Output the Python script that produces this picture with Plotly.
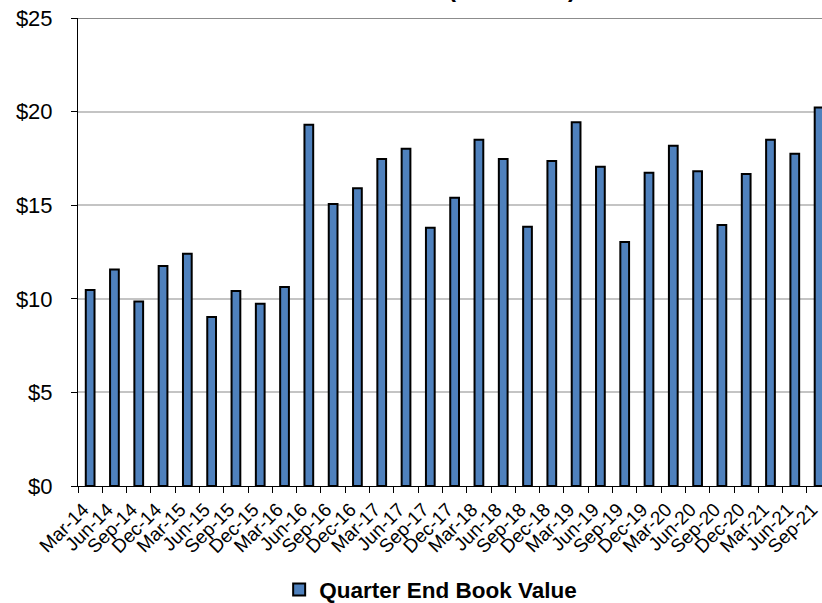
import plotly.graph_objects as go

# Quarter labels and book value per share at each quarter end
quarters = [
    "Mar-14", "Jun-14", "Sep-14", "Dec-14",
    "Mar-15", "Jun-15", "Sep-15", "Dec-15",
    "Mar-16", "Jun-16", "Sep-16", "Dec-16",
    "Mar-17", "Jun-17", "Sep-17", "Dec-17",
    "Mar-18", "Jun-18", "Sep-18", "Dec-18",
    "Mar-19", "Jun-19", "Sep-19", "Dec-19",
    "Mar-20", "Jun-20", "Sep-20", "Dec-20",
    "Mar-21", "Jun-21", "Sep-21",
]
book_value = [
    10.47, 11.57, 9.85, 11.75,
    12.41, 9.03, 10.41, 9.74,
    10.63, 19.30, 15.06, 15.90,
    17.47, 18.02, 13.80, 15.40,
    18.49, 17.47, 13.85, 17.36,
    19.43, 17.06, 13.03, 16.74,
    18.18, 16.81, 13.94, 16.67,
    18.50, 17.75, 20.22,
]
y_ticks = [0, 5, 10, 15, 20, 25]
y_tick_text = ["$0", "$5", "$10", "$15", "$20", "$25"]
dark_grid_levels = [10, 20, 25]

FONT = "Liberation Sans, Arial, Helvetica, sans-serif"

fig = go.Figure()
fig.add_trace(go.Bar(
    x=quarters,
    y=book_value,
    name="Quarter End Book Value",
    marker=dict(color="#4F81BD", line=dict(color="#000000", width=2)),
))

# darker grid rules on the major levels
for lvl in dark_grid_levels:
    fig.add_shape(
        type="line", xref="paper", x0=0, x1=1, yref="y", y0=lvl, y1=lvl,
        line=dict(color="#8c8c8c", width=2 if lvl == 25 else 1.2),
        layer="below",
    )

fig.add_annotation(
    text="<b>Book Value (Per Share)</b>",
    xref="paper", yref="paper", x=0.492, y=1,
    xanchor="center", yanchor="bottom", yshift=14,
    showarrow=False, font=dict(family=FONT, size=24, color="#000000"),
)

fig.update_layout(
    width=822, height=603,
    margin=dict(l=78, r=0, t=18, b=117, autoexpand=False),
    paper_bgcolor="white", plot_bgcolor="white",
    bargap=0.64,
    showlegend=True,
    legend=dict(
        orientation="h", x=0.474, xanchor="center", y=-0.222, yanchor="middle",
        font=dict(family=FONT, size=22.5, color="#000000", weight="bold"),
        itemwidth=30,
    ),
    font=dict(family=FONT, color="#000000"),
)
fig.update_xaxes(
    type="category",
    range=[-0.5, 30.12],
    automargin=False,
    tickangle=-45,
    tickfont=dict(family=FONT, size=19, color="#000000"),
    ticklabelstandoff=4,
    ticklabelshift=-7,
    showline=True, linecolor="#000000", linewidth=1,
    ticks="outside", ticklen=6, tickcolor="#000000", tickson="boundaries",
    showgrid=False,
)
fig.update_yaxes(
    range=[0, 25],
    automargin=False,
    tickvals=y_ticks, ticktext=y_tick_text,
    tickfont=dict(family=FONT, size=22, color="#000000"),
    ticklabelstandoff=14,
    showline=True, linecolor="#000000", linewidth=1,
    ticks="outside", ticklen=6, tickcolor="#000000",
    showgrid=True, gridcolor="#c4c4c4", gridwidth=1.6,
    zeroline=False,
)

fig.write_html("out.html")
